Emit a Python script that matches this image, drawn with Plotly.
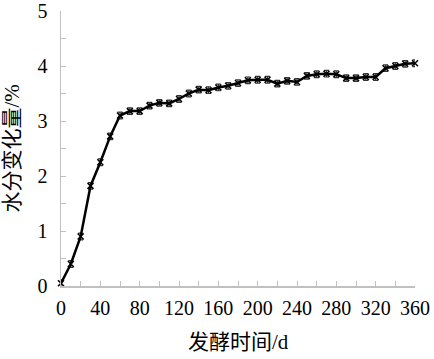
import plotly.graph_objects as go

days = list(range(0, 361, 10))
moisture = [0.05, 0.40, 0.90, 1.82, 2.25, 2.72, 3.10, 3.18, 3.18, 3.28,
            3.33, 3.32, 3.40, 3.50, 3.57, 3.56, 3.61, 3.64, 3.69, 3.74,
            3.75, 3.75, 3.68, 3.73, 3.71, 3.82, 3.85, 3.86, 3.85, 3.78,
            3.78, 3.80, 3.80, 3.96, 4.00, 4.04, 4.05]
err = [0.06] * len(days)

x_ticks = list(range(0, 361, 20))
x_labels = [str(v) if v % 40 == 0 else "" for v in x_ticks]
y_ticks = [i * 0.5 for i in range(11)]
y_labels = [str(int(v)) if v == int(v) else "" for v in y_ticks]

FONT = "Liberation Serif, 'Times New Roman', 'Noto Sans CJK SC', serif"
AX = "#c0c0c0"

fig = go.Figure()
fig.add_trace(go.Scatter(
    x=days, y=moisture, mode="lines+markers",
    line=dict(color="black", width=2.5),
    marker=dict(symbol="x-thin", size=6, color="black",
                line=dict(color="black", width=1.5)),
    error_y=dict(type="data", array=err, visible=True,
                 color="#333333", thickness=1.2, width=2.5),
    cliponaxis=False, showlegend=False,
))

fig.update_layout(
    width=434, height=359,
    margin=dict(l=61, r=19, t=11, b=73, autoexpand=False),
    paper_bgcolor="white", plot_bgcolor="white",
    font=dict(family=FONT, size=20, color="black"),
    xaxis=dict(range=[0, 360], tickvals=x_ticks, ticktext=x_labels,
               ticks="inside", ticklen=5, tickcolor=AX, tickwidth=1,
               showline=True, linecolor=AX, linewidth=1.5, automargin=False,
               showgrid=False, zeroline=False, ticklabelstandoff=3,
               tickfont=dict(family=FONT, size=20)),
    yaxis=dict(range=[0, 5], tickvals=y_ticks, ticktext=y_labels,
               ticks="inside", ticklen=5, tickcolor=AX, tickwidth=1,
               showline=True, linecolor=AX, linewidth=1.5, automargin=False,
               showgrid=False, zeroline=False, ticklabelstandoff=8,
               tickfont=dict(family=FONT, size=20)),
    annotations=[
        dict(text="发酵时间/d", xref="paper", yref="paper", x=0.5, y=0,
             yshift=-56, showarrow=False, xanchor="center", yanchor="middle",
             font=dict(family=FONT, size=21)),
        dict(text="水分变化量/%", xref="paper", yref="paper", x=0, y=0.5,
             xshift=-50, showarrow=False, xanchor="center", yanchor="middle",
             textangle=-90, font=dict(family=FONT, size=21)),
    ],
)

fig.write_html("out.html",
               config={"displayModeBar": False, "staticPlot": True},
               post_script="document.body.style.margin='0';"
                           "document.body.style.overflow='hidden';")
